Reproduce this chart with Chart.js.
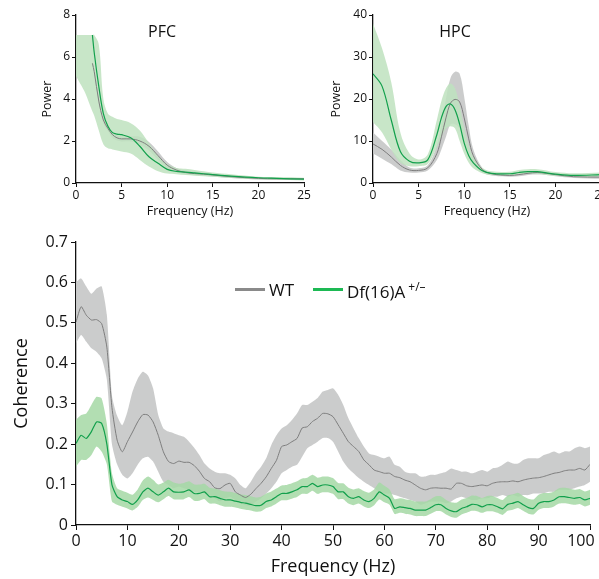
<!DOCTYPE html>
<html>
<head>
<meta charset="utf-8">
<script src="https://cdn.jsdelivr.net/npm/chart.js@4.4.1/dist/chart.umd.min.js"></script>
<style>
  html, body { margin:0; padding:0; background:#fff; width:599px; height:579px; overflow:hidden; position:relative; font-family:"Open Sans", sans-serif; }
  canvas { position:absolute; }
  .ttl { position:absolute; font-size:16px; color:#111; transform:translate(-50%,-50%); white-space:nowrap; }
  .leg { position:absolute; font-size:17px; color:#111; white-space:nowrap; }
  .legline { position:absolute; height:3px; }
</style>
</head>
<body>
<canvas id="pfc" width="320" height="225" style="left:0;top:0"></canvas>
<canvas id="hpc" width="310" height="225" style="left:310px;top:0"></canvas>
<canvas id="coh" width="599" height="354" style="left:0;top:225px"></canvas>
<div class="ttl" style="left:162px;top:31px">PFC</div>
<div class="ttl" style="left:455px;top:31px">HPC</div>
<div class="legline" style="left:235px;top:288px;width:30px;background:#8a8a8a"></div>
<div class="leg" style="left:269px;top:278px">WT</div>
<div class="legline" style="left:313px;top:288px;width:30px;background:#1db954"></div>
<div class="leg" style="left:347px;top:278px">Df(16)A<sup style="font-size:12px;margin-left:3px">+/–</sup></div>
<script>
// ---------- PFC power ----------
const pfcFreq   = [0,0.5,1,1.8,2,2.5,3,3.5,4,4.5,5,6,7,8,9,10,11,12,13,14,15,17,20,22,25];
const pfcWT     = [null,null,null,5.7,5.3,3.9,3.0,2.6,2.3,2.15,2.1,2.1,2.0,1.75,1.3,0.85,0.62,0.5,0.45,0.42,0.38,0.3,0.22,0.2,0.2];
const pfcWTHi   = [null,null,null,5.85,5.45,4.05,3.15,2.72,2.42,2.27,2.22,2.22,2.2,1.95,1.5,1.0,0.72,0.6,0.53,0.5,0.45,0.36,0.27,0.25,0.24];
const pfcWTLo   = [null,null,null,5.55,5.15,3.75,2.85,2.48,2.15,2.02,1.98,1.98,1.82,1.55,1.1,0.7,0.52,0.42,0.38,0.35,0.31,0.24,0.17,0.15,0.15];
const pfcDf     = [null,null,null,7.05,6.2,4.6,3.3,2.7,2.4,2.33,2.3,2.15,1.75,1.25,0.94,0.65,0.55,0.52,0.48,0.44,0.4,0.33,0.25,0.22,0.18];
const pfcDfHi   = [7.05,7.05,7.05,7.05,7.05,6.6,4.0,3.3,3.15,3.05,3.0,2.85,2.5,1.9,1.3,0.9,0.72,0.68,0.62,0.56,0.5,0.42,0.3,0.28,0.25];
const pfcDfLo   = [5.1,4.7,4.3,3.4,3.2,2.5,1.85,1.65,1.6,1.55,1.5,1.4,1.1,0.78,0.56,0.45,0.42,0.38,0.35,0.32,0.3,0.24,0.18,0.15,0.12];

// ---------- HPC power ----------
const hpcFreq   = [0,1,2,3,4,5,6,7,7.5,8,8.5,9,9.5,10,10.5,11,12,13,15,16,17,18,19,20,22,25];
const hpcWT     = [9.3,8,6.2,4.2,3.1,3.0,3.6,7,11,15.5,19,19.9,19.3,15.5,10.5,6.5,3.2,2.2,1.8,2.0,2.3,2.5,2.3,2.0,1.5,1.4];
const hpcWTHi   = [12,10,8,5.5,3.7,3.5,4.2,9,14,20,25,26.5,26,20.5,13.5,8,3.6,2.5,2.1,2.4,2.7,2.9,2.6,2.3,1.8,1.7];
const hpcWTLo   = [7,5.8,4.5,3,2.5,2.5,3,5.5,8,11,14,14,13,10,7,4.5,2.5,1.8,1.5,1.6,1.9,2.0,1.9,1.6,1.2,1.0];
const hpcDf     = [26,23,15,7.5,5.2,4.8,5.5,11.5,15.5,18.2,18.8,17.4,14,9.5,6.5,4.8,2.9,2.3,2.2,2.5,2.7,2.7,2.4,2.1,1.8,2.0];
const hpcDfHi   = [38,32,24,12,7,5.6,6.8,15,19.5,22.5,23.7,22.5,18.5,13,9,6.2,3.6,2.8,2.7,3.1,3.3,3.3,3.0,2.6,2.3,2.5];
const hpcDfLo   = [14.5,12,8,4.8,4,4,4.5,8.5,11,13,13.5,13,10,7,4.8,3.5,2.3,1.9,1.8,2.0,2.2,2.2,1.9,1.7,1.4,1.5];

// ---------- Coherence (0..100 Hz, 1 Hz steps) ----------
const cohFreq = Array.from({length:101},(_,i)=>i);
const cohWT = [0.502,0.54,0.519,0.507,0.508,0.498,0.44,0.29,0.21,0.181,
  0.206,0.23,0.255,0.273,0.272,0.255,0.222,0.181,0.157,0.152,
  0.158,0.155,0.155,0.147,0.133,0.115,0.107,0.092,0.09,0.099,
  0.103,0.082,0.074,0.068,0.076,0.09,0.103,0.119,0.14,0.16,
  0.194,0.198,0.206,0.214,0.24,0.243,0.256,0.264,0.276,0.275,
  0.268,0.248,0.227,0.206,0.194,0.182,0.161,0.149,0.136,0.132,
  0.128,0.128,0.12,0.117,0.111,0.107,0.099,0.091,0.087,0.091,
  0.092,0.091,0.091,0.089,0.103,0.103,0.097,0.095,0.097,0.099,
  0.097,0.103,0.106,0.107,0.107,0.109,0.107,0.111,0.114,0.116,
  0.117,0.12,0.124,0.128,0.13,0.134,0.136,0.136,0.14,0.136,0.15];
const cohWTHi = [0.6,0.61,0.59,0.572,0.585,0.59,0.52,0.32,0.27,0.247,
  0.28,0.33,0.362,0.379,0.37,0.338,0.272,0.239,0.231,0.227,
  0.222,0.218,0.206,0.191,0.173,0.152,0.14,0.132,0.128,0.128,
  0.124,0.115,0.099,0.091,0.107,0.128,0.144,0.165,0.198,0.222,
  0.239,0.247,0.26,0.276,0.297,0.297,0.305,0.314,0.33,0.334,
  0.338,0.322,0.297,0.264,0.239,0.215,0.194,0.177,0.173,0.169,
  0.165,0.169,0.149,0.144,0.132,0.128,0.128,0.12,0.12,0.124,
  0.124,0.128,0.132,0.14,0.136,0.132,0.132,0.128,0.132,0.136,
  0.132,0.14,0.142,0.149,0.157,0.152,0.152,0.161,0.165,0.165,
  0.165,0.173,0.177,0.182,0.177,0.182,0.182,0.19,0.194,0.19,0.194];
const cohWTLo = [0.449,0.47,0.453,0.437,0.428,0.412,0.36,0.2,0.15,0.124,
  0.115,0.128,0.149,0.165,0.169,0.157,0.132,0.107,0.099,0.091,
  0.095,0.091,0.087,0.082,0.082,0.078,0.074,0.066,0.058,0.066,
  0.07,0.062,0.054,0.049,0.049,0.058,0.066,0.078,0.091,0.107,
  0.128,0.136,0.144,0.149,0.169,0.19,0.198,0.206,0.215,0.215,
  0.206,0.182,0.157,0.14,0.128,0.116,0.107,0.099,0.091,0.082,
  0.078,0.078,0.074,0.07,0.066,0.062,0.058,0.05,0.054,0.058,
  0.058,0.058,0.054,0.058,0.066,0.07,0.066,0.062,0.062,0.066,
  0.066,0.07,0.07,0.074,0.07,0.074,0.07,0.074,0.074,0.078,
  0.078,0.078,0.082,0.082,0.087,0.087,0.087,0.091,0.095,0.099,0.107];
const cohDf = [0.202,0.222,0.214,0.231,0.255,0.251,0.2,0.099,0.07,0.062,
  0.058,0.051,0.062,0.082,0.091,0.082,0.074,0.082,0.091,0.082,
  0.081,0.082,0.087,0.078,0.078,0.082,0.07,0.07,0.066,0.062,
  0.062,0.059,0.056,0.054,0.051,0.048,0.049,0.058,0.062,0.07,
  0.078,0.078,0.082,0.087,0.095,0.095,0.103,0.095,0.099,0.099,
  0.095,0.082,0.082,0.07,0.066,0.07,0.062,0.058,0.066,0.082,
  0.074,0.066,0.041,0.045,0.043,0.041,0.037,0.037,0.037,0.043,
  0.05,0.05,0.041,0.035,0.033,0.041,0.045,0.051,0.05,0.045,
  0.05,0.05,0.045,0.04,0.051,0.054,0.058,0.05,0.043,0.041,
  0.054,0.058,0.058,0.062,0.07,0.07,0.068,0.066,0.068,0.062,0.066];
const cohDfHi = [0.26,0.272,0.276,0.297,0.317,0.313,0.25,0.128,0.091,0.085,
  0.08,0.075,0.088,0.11,0.12,0.112,0.1,0.105,0.112,0.105,
  0.102,0.104,0.108,0.1,0.1,0.102,0.092,0.09,0.086,0.083,
  0.082,0.079,0.076,0.074,0.071,0.068,0.07,0.078,0.083,0.09,
  0.098,0.099,0.103,0.108,0.115,0.117,0.124,0.117,0.12,0.12,
  0.116,0.104,0.103,0.092,0.088,0.091,0.084,0.08,0.088,0.105,
  0.097,0.088,0.064,0.066,0.064,0.062,0.058,0.058,0.058,0.064,
  0.071,0.071,0.062,0.056,0.055,0.063,0.067,0.073,0.072,0.067,
  0.072,0.072,0.067,0.062,0.073,0.076,0.08,0.072,0.065,0.063,
  0.075,0.079,0.079,0.083,0.091,0.092,0.09,0.087,0.089,0.083,0.087];
const cohDfLo = [0.144,0.161,0.161,0.173,0.194,0.181,0.15,0.058,0.05,0.045,
  0.041,0.036,0.045,0.062,0.068,0.062,0.056,0.064,0.072,0.064,
  0.063,0.064,0.069,0.06,0.06,0.064,0.053,0.053,0.049,0.045,
  0.045,0.043,0.04,0.038,0.036,0.033,0.034,0.042,0.046,0.053,
  0.061,0.061,0.065,0.069,0.077,0.077,0.085,0.077,0.081,0.081,
  0.077,0.064,0.064,0.053,0.049,0.053,0.046,0.042,0.049,0.063,
  0.056,0.05,0.027,0.03,0.028,0.026,0.022,0.022,0.022,0.028,
  0.034,0.034,0.026,0.02,0.018,0.026,0.03,0.035,0.034,0.03,
  0.034,0.034,0.03,0.025,0.035,0.038,0.042,0.035,0.028,0.026,
  0.038,0.042,0.042,0.046,0.053,0.054,0.052,0.05,0.052,0.046,0.05];

const FONT = "Open Sans";
const GREEN = '#12a04c', GRAY = '#7d7d7d';

function pts(xs, ys){ return xs.map((x,i)=>({x:x, y:ys[i]})); }

function build(id, o){
  const ds = [
    {data:pts(o.freq,o.df), borderColor:GREEN, borderWidth:1.2, fill:false},
    {data:pts(o.freq,o.wt), borderColor:GRAY, borderWidth:1, fill:false},
    {data:pts(o.freq,o.dfHi), borderWidth:0, borderColor:'rgba(0,0,0,0)', backgroundColor:o.greenBand, fill:'+1'},
    {data:pts(o.freq,o.dfLo), borderWidth:0, borderColor:'rgba(0,0,0,0)', fill:false},
    {data:pts(o.freq,o.wtHi), borderWidth:0, borderColor:'rgba(0,0,0,0)', backgroundColor:'rgba(200,201,201,0.95)', fill:'+1'},
    {data:pts(o.freq,o.wtLo), borderWidth:0, borderColor:'rgba(0,0,0,0)', fill:false}
  ];
  ds.forEach(d=>{ d.pointRadius=0; d.tension=o.tension; d.spanGaps=false; });
  return new Chart(document.getElementById(id), {
    type:'line',
    data:{datasets:ds},
    options:{
      responsive:false, animation:false, events:[],
      layout:{padding:o.pad},
      plugins:{legend:{display:false}, tooltip:{enabled:false}},
      scales:{
        x:{type:'linear', min:o.xmin, max:o.xmax,
          ticks:{stepSize:o.xstep, color:'#111', font:{family:FONT,size:o.tickSize}, padding:o.xtickPad, maxRotation:0, autoSkip:false,
            callback:(v)=> (o.lastShift && v===o.xmax) ? String(v)+'\u2007\u2007' : String(v)},
          grid:{drawOnChartArea:false, drawTicks:true, tickLength:o.tickLen, color:'#111', tickWidth:1},
          border:{display:true, color:'#111', width:1.3},
          title:{display:true, text:'Frequency (Hz)', color:'#111', font:{family:FONT,size:o.titleSize}, padding:{top:0,bottom:o.xtitlePad}},
          afterFit:(s)=>{ s.height=o.xH; s.paddingLeft=0; s.paddingRight=0; }
        },
        y:{type:'linear', min:o.ymin, max:o.ymax,
          ticks:{stepSize:o.ystep, color:'#111', font:{family:FONT,size:o.tickSize}, padding:o.ytickPad},
          grid:{drawOnChartArea:false, drawTicks:true, tickLength:o.tickLen, color:'#111', tickWidth:1},
          border:{display:true, color:'#111', width:1.3},
          title:{display:true, text:o.ylabel, color:'#111', font:{family:FONT,size:o.titleSize}, padding:{top:o.ytitlePad,bottom:0}},
          afterFit:(s)=>{ s.width=o.yW; s.paddingTop=0; s.paddingBottom=0; }
        }
      }
    }
  });
}

build('pfc', {freq:pfcFreq, wt:pfcWT, wtHi:pfcWTHi, wtLo:pfcWTLo, df:pfcDf, dfHi:pfcDfHi, dfLo:pfcDfLo,
  greenBand:'rgba(190,226,190,0.85)', tension:0.35,
  xmin:0, xmax:25, xstep:5, ymin:0, ymax:8, ystep:2, ylabel:'Power',
  pad:{top:15,right:16,left:0,bottom:0}, xH:42, yW:76, tickSize:12, titleSize:12.5, tickLen:4,
  xtickPad:1, ytickPad:2, xtitlePad:6, ytitlePad:40});

build('hpc', {freq:hpcFreq, wt:hpcWT, wtHi:hpcWTHi, wtLo:hpcWTLo, df:hpcDf, dfHi:hpcDfHi, dfLo:hpcDfLo,
  greenBand:'rgba(190,226,190,0.85)', tension:0.35,
  xmin:0, xmax:25, xstep:5, ymin:0, ymax:40, ystep:10, ylabel:'Power',
  pad:{top:15,right:19,left:0,bottom:0}, xH:42, yW:63, tickSize:12, titleSize:12.5, tickLen:4,
  xtickPad:1, ytickPad:2, xtitlePad:6, ytitlePad:19});

build('coh', {freq:cohFreq, wt:cohWT, wtHi:cohWTHi, wtLo:cohWTLo, df:cohDf, dfHi:cohDfHi, dfLo:cohDfLo,
  greenBand:'rgba(165,216,165,0.85)', tension:0.2, lastShift:true,
  xmin:0, xmax:100, xstep:10, ymin:0, ymax:0.7, ystep:0.1, ylabel:'Coherence',
  pad:{top:17,right:9,left:0,bottom:0}, xH:54, yW:76, tickSize:16, titleSize:18, tickLen:5,
  xtickPad:2, ytickPad:3, xtitlePad:1, ytitlePad:11});
</script>
</body>
</html>
